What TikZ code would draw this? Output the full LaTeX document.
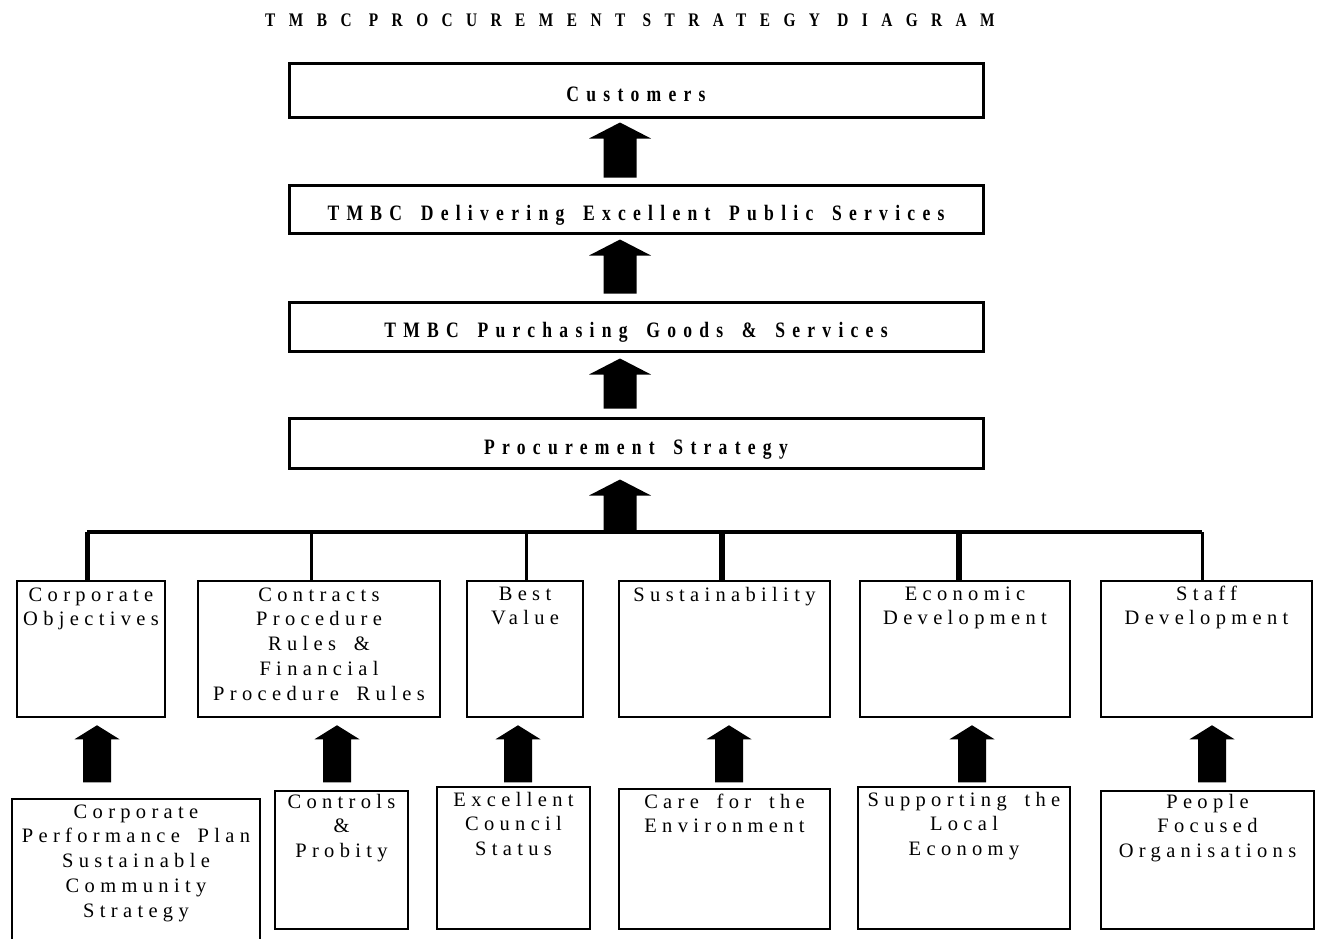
\documentclass[tikz,border=0pt]{standalone}
\usepackage{fontspec}
\setmainfont{Liberation Serif}
\newfontfamily\bodyfont[LetterSpace=26,WordSpace=1.7]{Liberation Serif}
\newfontfamily\headfont[LetterSpace=33,FakeStretch=0.8,WordSpace=1.6]{Liberation Serif}
\newfontfamily\titlefont[LetterSpace=70,FakeStretch=0.8]{Liberation Serif}
\usetikzlibrary{calc}
\newcommand\blockup[5]{%
  \fill let \p1=(#1), \p2=(#2) in
    (\x1-#3pt,\y1) -- (\x1-#3pt,\y2-#5pt) -- (\x1-#4pt,\y2-#5pt) -- (\x1,\y2)
    -- (\x1+#4pt,\y2-#5pt) -- (\x1+#3pt,\y2-#5pt) -- (\x1+#3pt,\y1) -- cycle;}
\tikzset{
  topbox/.style={draw, line width=3pt, minimum width=694pt, inner sep=0pt,
    text height=24pt, text depth=2pt,
    font=\headfont\bfseries\fontsize{22}{26}\selectfont},
  lowbox/.style={draw, line width=2.5pt, inner sep=0pt},
  bodytxt/.style={anchor=north, align=center, inner sep=0pt,
    font=\bodyfont\fontsize{20.5}{24.7}\selectfont}
}
\begin{document}
\begin{tikzpicture}[x=1pt,y=-1pt]
\useasboundingbox (0,0) rectangle (1319,938);
\clip (0,0) rectangle (1319,938);
\fill[white] (0,0) rectangle (1319,938);

\node (title) at (630,20) {\titlefont\bfseries\fontsize{19.2}{22}\selectfont TMBC PROCUREMENT STRATEGY DIAGRAM};

\node[topbox, minimum height=54pt] (cust) at (636,90) {Customers};
\node[topbox, minimum height=48pt] (deliv) at (636,209) {TMBC Delivering Excellent Public Services};
\node[topbox, minimum height=49pt] (purch) at (636,326.5) {TMBC Purchasing Goods \& Services};
\node[topbox, minimum height=50pt] (proc) at (636,443) {Procurement Strategy};

\blockup{$(deliv.north)+(-16,-6)$}{$(cust.south)+(-16,4)$}{16.5}{31}{16}
\blockup{$(purch.north)+(-16,-7)$}{$(deliv.south)+(-16,5)$}{16.5}{31}{16}
\blockup{$(proc.north)+(-16,-8)$}{$(purch.south)+(-16,6)$}{16.5}{31}{16}

% level 2 boxes
\node[lowbox, minimum width=148pt, minimum height=136pt] (l2a) at (91,649) {};
\node[lowbox, minimum width=242pt, minimum height=136pt] (l2b) at (319,649) {};
\node[lowbox, minimum width=116pt, minimum height=136pt] (l2c) at (525,649) {};
\node[lowbox, minimum width=211pt, minimum height=136pt] (l2d) at (724.5,649) {};
\node[lowbox, minimum width=210pt, minimum height=136pt] (l2e) at (965,649) {};
\node[lowbox, minimum width=211pt, minimum height=136pt] (l2f) at (1206.5,649) {};

\node[bodytxt] (l2at) at ($(l2a.north)+(0,4)$) {\strut Corporate\\Objectives};
\node[bodytxt] (l2bt) at ($(l2b.north)+(0,4)$) {\strut Contracts\\Procedure\\Rules \&\\Financial\\Procedure Rules};
\node[bodytxt] (l2ct) at ($(l2c.north)+(0,3)$) {\strut Best\\Value};
\node[bodytxt] (l2dt) at ($(l2d.north)+(0,4)$) {\strut Sustainability};
\node[bodytxt] (l2et) at ($(l2e.north)+(0,3)$) {\strut Economic\\Development};
\node[bodytxt] (l2ft) at ($(l2f.north)+(0,3)$) {\strut Staff\\Development};

% bar and drops
\coordinate (d1) at (87,532);
\coordinate (d2) at (311,532);
\coordinate (d3) at (526,532);
\coordinate (d4) at (722,532);
\coordinate (d5) at (959,532);
\coordinate (d6) at (1202,532);
\coordinate (barM) at (620,531);
\draw[line width=4pt, line cap=square] (d1) -- (d6);
\draw[line width=5pt] (d1) -- (d1 |- l2a.north);
\draw[line width=3pt] (d2) -- (d2 |- l2b.north);
\draw[line width=3pt] (d3) -- (d3 |- l2c.north);
\draw[line width=6pt] (d4) -- (d4 |- l2d.north);
\draw[line width=6pt] (d5) -- (d5 |- l2e.north);
\draw[line width=3pt] (d6) -- (d6 |- l2f.north);

\blockup{barM}{$(proc.south)+(-16,10)$}{16.5}{31}{16}

% level 3 boxes
\node[lowbox, minimum width=248pt, minimum height=161pt] (l3a) at (136,879.5) {};
\node[lowbox, minimum width=133pt, minimum height=138pt] (l3b) at (341.5,860) {};
\node[lowbox, minimum width=153pt, minimum height=142pt] (l3c) at (513.5,858) {};
\node[lowbox, minimum width=211pt, minimum height=140pt] (l3d) at (724.5,859) {};
\node[lowbox, minimum width=212pt, minimum height=142pt] (l3e) at (964,858) {};
\node[lowbox, minimum width=213pt, minimum height=138pt] (l3f) at (1207.5,860) {};

\node[bodytxt] (l3at) at ($(l3a.north)+(0,3)$) {\strut Corporate\\Performance Plan\\Sustainable\\Community\\Strategy};
\node[bodytxt] (l3bt) at ($(l3b.north)+(0,1)$) {\strut Controls\\\&\\Probity};
\node[bodytxt] (l3ct) at ($(l3c.north)+(0,3)$) {\strut Excellent\\Council\\Status};
\node[bodytxt] (l3dt) at ($(l3d.north)+(0,3)$) {\strut Care for the\\Environment};
\node[bodytxt] (l3et) at ($(l3e.north)+(0,3)$) {\strut Supporting the\\Local\\Economy};
\node[bodytxt] (l3ft) at ($(l3f.north)+(0,1)$) {\strut People\\Focused\\Organisations};

% arrows level 3 -> level 2
\blockup{$(l2a.south)+(6,64)$}{$(l2a.south)+(6,7)$}{14}{22.5}{14}
\blockup{$(l2b.south)+(18,64)$}{$(l2b.south)+(18,7)$}{14}{22.5}{14}
\blockup{$(l2c.south)+(-7,64)$}{$(l2c.south)+(-7,7)$}{14}{22.5}{14}
\blockup{$(l2d.south)+(4.5,64)$}{$(l2d.south)+(4.5,7)$}{14}{22.5}{14}
\blockup{$(l2e.south)+(7,64)$}{$(l2e.south)+(7,7)$}{14}{22.5}{14}
\blockup{$(l2f.south)+(5.5,64)$}{$(l2f.south)+(5.5,7)$}{14}{22.5}{14}
\end{tikzpicture}
\end{document}
